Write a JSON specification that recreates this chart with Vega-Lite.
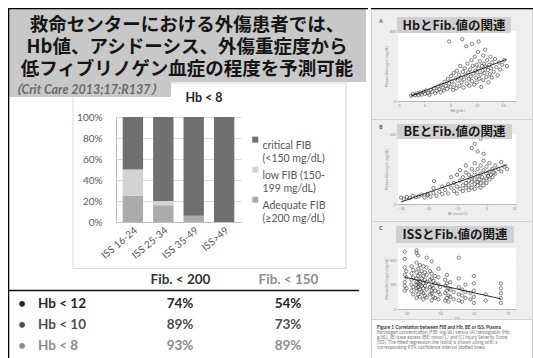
{
  "$schema": "https://vega.github.io/schema/vega-lite/v6.json",
  "padding": {"left": 7, "top": 7, "right": 0, "bottom": 0},
  "background": "white",
  "spacing": 0,
  "config": {
    "view": {"stroke": null},
    "font": "Lato",
    "text": {"font": "Lato"},
    "axis": {"labelFont": "Lato", "titleFont": "Lato"},
    "legend": {"labelFont": "Lato"}
  },
  "resolve": {"scale": {"color": "independent"}, "legend": {"color": "independent"}},
  "hconcat": [
    {
      "spacing": 0,
      "bounds": "flush",
      "resolve": {"scale": {"color": "independent"}, "legend": {"color": "independent"}},
      "vconcat": [
        {
          "width": 358,
          "height": 74,
          "view": {"fill": "#c8c8c8", "stroke": null},
          "layer": [
            {
              "data": {"values": [
                {"n": 1, "line": "救命センターにおける外傷患者では、"},
                {"n": 2, "line": "Hb値、アシドーシス、外傷重症度から"},
                {"n": 3, "line": "低フィブリノゲン血症の程度を予測可能"}
              ]},
              "mark": {"type": "text", "font": "Noto Sans CJK JP", "fontSize": 18.5, "fontWeight": "bold", "color": "#151515", "align": "center", "baseline": "middle"},
              "encoding": {
                "x": {"value": 179},
                "y": {"field": "n", "type": "ordinal", "scale": {"range": [16.5, 60.5], "padding": 0}, "axis": null},
                "text": {"field": "line"}
              }
            },
            {
              "data": {"values": [{}]},
              "mark": {"type": "rule", "color": "black", "strokeWidth": 1.3},
              "encoding": {"x": {"value": 0}, "x2": {"value": 360}, "y": {"value": 0.65}}
            },
            {
              "data": {"values": [{}]},
              "mark": {"type": "rule", "color": "black", "strokeWidth": 1.3},
              "encoding": {"x": {"value": 0.65}, "y": {"value": 0}, "y2": {"value": 74}}
            }
          ]
        },
        {
          "width": 358,
          "height": 187,
          "layer": [
            {
              "data": {"values": [{}]},
              "mark": {"type": "rect", "fill": null, "stroke": "#d9d9d9", "strokeWidth": 1},
              "encoding": {"x": {"value": 65}, "x2": {"value": 338}, "y": {"value": 1}, "y2": {"value": 186.5}}
            },
            {
              "data": {"values": [
                {"iss": "ISS 16-24", "level": "Adequate FIB (≥200 mg/dL)", "fibFloor": 200, "pct": 25},
                {"iss": "ISS 16-24", "level": "low FIB (150-199 mg/dL)", "fibFloor": 150, "pct": 25},
                {"iss": "ISS 16-24", "level": "critical FIB (<150 mg/dL)", "fibFloor": 0, "pct": 50},
                {"iss": "ISS 25-34", "level": "Adequate FIB (≥200 mg/dL)", "fibFloor": 200, "pct": 16},
                {"iss": "ISS 25-34", "level": "low FIB (150-199 mg/dL)", "fibFloor": 150, "pct": 4},
                {"iss": "ISS 25-34", "level": "critical FIB (<150 mg/dL)", "fibFloor": 0, "pct": 80},
                {"iss": "ISS 35-49", "level": "Adequate FIB (≥200 mg/dL)", "fibFloor": 200, "pct": 6},
                {"iss": "ISS 35-49", "level": "low FIB (150-199 mg/dL)", "fibFloor": 150, "pct": 0},
                {"iss": "ISS 35-49", "level": "critical FIB (<150 mg/dL)", "fibFloor": 0, "pct": 94},
                {"iss": "ISS>49", "level": "Adequate FIB (≥200 mg/dL)", "fibFloor": 200, "pct": 0},
                {"iss": "ISS>49", "level": "low FIB (150-199 mg/dL)", "fibFloor": 150, "pct": 0},
                {"iss": "ISS>49", "level": "critical FIB (<150 mg/dL)", "fibFloor": 0, "pct": 100}
              ]},
              "mark": {"type": "bar"},
              "encoding": {
                "x": {
                  "field": "iss", "type": "nominal",
                  "sort": ["ISS 16-24", "ISS 25-34", "ISS 35-49", "ISS>49"],
                  "scale": {"range": [108, 233], "paddingInner": 0.33, "paddingOuter": 0.22},
                  "axis": {"title": null, "offset": -47, "labelAngle": -40, "labelFontSize": 10, "labelColor": "#595959", "ticks": false, "tickSize": 0, "labelPadding": 3, "domainColor": "#bfbfbf", "grid": false}
                },
                "y": {
                  "field": "pct", "type": "quantitative", "stack": "normalize",
                  "scale": {"domain": [0, 1], "range": [140, 35], "nice": false},
                  "axis": {"title": null, "offset": -108, "values": [0, 0.2, 0.4, 0.6, 0.8, 1], "format": ".0%", "ticks": false, "tickSize": 0, "labelPadding": 14, "labelFontSize": 10, "labelColor": "#595959", "domainColor": "#bfbfbf", "grid": true, "gridColor": "#d9d9d9"}
                },
                "color": {
                  "field": "level", "type": "nominal",
                  "scale": {"domain": ["critical FIB (<150 mg/dL)", "low FIB (150-199 mg/dL)", "Adequate FIB (≥200 mg/dL)"], "range": ["#707070", "#d3d3d3", "#ababab"]},
                  "legend": {
                    "title": null, "orient": "none", "legendX": 242, "legendY": 59,
                    "symbolType": "M-1,-3.2H1V-1.2H-1Z", "symbolSize": 36, "symbolStrokeWidth": 0,
                    "labelFontSize": 10.5, "labelColor": "#595959", "labelLimit": 200, "labelOffset": 2,
                    "rowPadding": 1, "padding": 0,
                    "labelExpr": "datum.label == 'low FIB (150-199 mg/dL)' ? ['low FIB (150-', '199 mg/dL)'] : [slice(datum.label, 0, indexof(datum.label, ' (')), slice(datum.label, indexof(datum.label, ' (') + 1)]"
                  }
                },
                "order": {"field": "fibFloor", "type": "quantitative", "sort": "descending"}
              }
            },
            {
              "data": {"values": [{"cite": "（Crit Care 2013;17:R137）"}]},
              "mark": {"type": "rect", "color": "#c8c8c8"},
              "encoding": {"x": {"value": 0}, "x2": {"value": 163}, "y": {"value": 0}, "y2": {"value": 15}}
            },
            {
              "data": {"values": [{"cite": "（Crit Care 2013;17:R137）"}]},
              "mark": {"type": "text", "align": "left", "baseline": "middle", "font": "Lato, Noto Sans CJK JP", "fontSize": 12.5, "fontWeight": "bold", "fontStyle": "italic", "color": "#6a6a6a"},
              "encoding": {"x": {"value": 1}, "y": {"value": 7.5}, "text": {"field": "cite"}}
            },
            {
              "data": {"values": [{"subset": "Hb < 8"}]},
              "mark": {"type": "text", "align": "center", "baseline": "middle", "fontSize": 12.5, "fontWeight": "bold", "color": "#262626"},
              "encoding": {"x": {"value": 196}, "y": {"value": 16}, "text": {"field": "subset"}}
            },
            {
              "data": {"values": [{}]},
              "mark": {"type": "rule", "color": "black", "strokeWidth": 1.3},
              "encoding": {"x": {"value": 0.65}, "y": {"value": 0}, "y2": {"value": 187}}
            }
          ]
        },
        {
          "width": 358,
          "height": 90,
          "data": {"values": [
            {"hb": "Hb < 12", "fib200": 0.74, "fib150": 0.54},
            {"hb": "Hb < 10", "fib200": 0.89, "fib150": 0.73},
            {"hb": "Hb < 8", "fib200": 0.93, "fib150": 0.89}
          ]},
          "layer": [
            {
              "data": {"values": [{}]},
              "mark": {"type": "rule", "color": "black", "strokeWidth": 1.3},
              "encoding": {"x": {"value": 0.65}, "y": {"value": 0}, "y2": {"value": 90}}
            },
            {
              "data": {"values": [{}]},
              "mark": {"type": "rule", "color": "#111111", "strokeWidth": 1.3},
              "encoding": {"x": {"value": 0}, "x2": {"value": 351}, "y": {"value": 21.5}}
            },
            {
              "mark": {"type": "text", "align": "center", "baseline": "middle", "fontSize": 13, "fontWeight": "bold"},
              "encoding": {
                "x": {"value": 14},
                "y": {"field": "hb", "type": "nominal", "scale": {"domain": ["Hb < 12", "Hb < 10", "Hb < 8"], "range": [35, 77], "padding": 0}, "axis": null},
                "text": {"value": "•"},
                "color": {"field": "hb", "type": "nominal", "scale": {"domain": ["Hb < 12", "Hb < 10", "Hb < 8"], "range": ["#262626", "#4d4d4d", "#8c8c8c"]}, "legend": null}
              }
            },
            {
              "mark": {"type": "text", "align": "left", "baseline": "middle", "fontSize": 13.5, "fontWeight": "bold"},
              "encoding": {
                "x": {"value": 30},
                "y": {"field": "hb", "type": "nominal", "scale": {"domain": ["Hb < 12", "Hb < 10", "Hb < 8"], "range": [35, 77], "padding": 0}, "axis": null},
                "text": {"field": "hb"},
                "color": {"field": "hb", "type": "nominal", "scale": {"domain": ["Hb < 12", "Hb < 10", "Hb < 8"], "range": ["#262626", "#4d4d4d", "#8c8c8c"]}, "legend": null}
              }
            },
            {
              "transform": [{"fold": ["fib200", "fib150"], "as": ["col", "share"]}],
              "mark": {"type": "text", "align": "center", "baseline": "middle", "fontSize": 13.5, "fontWeight": "bold"},
              "encoding": {
                "x": {
                  "field": "col", "type": "nominal",
                  "scale": {"domain": ["fib200", "fib150"], "range": [172, 280], "padding": 0},
                  "axis": {
                    "orient": "top", "title": null, "offset": -10, "labelPadding": 0, "ticks": false, "tickSize": 0, "domain": false, "grid": false,
                    "labelAngle": 0, "labelBaseline": "middle", "labelFontSize": 13.5, "labelFontWeight": "bold",
                    "labelExpr": "datum.value == 'fib200' ? 'Fib. < 200' : 'Fib. < 150'",
                    "labelColor": {"condition": {"test": "datum.value == 'fib150'", "value": "#8c8c8c"}, "value": "#333333"}
                  }
                },
                "y": {"field": "hb", "type": "nominal", "scale": {"domain": ["Hb < 12", "Hb < 10", "Hb < 8"], "range": [35, 77], "padding": 0}, "axis": null},
                "text": {"field": "share", "type": "quantitative", "format": ".0%"},
                "color": {"field": "hb", "type": "nominal", "scale": {"domain": ["Hb < 12", "Hb < 10", "Hb < 8"], "range": ["#262626", "#4d4d4d", "#8c8c8c"]}, "legend": null}
              }
            }
          ]
        }
      ]
    },
    {
      "spacing": 0,
      "bounds": "flush",
      "vconcat": [
        {
          "width": 161,
          "height": 111,
          "view": {"fill": "#eeeeee", "stroke": "#d0d0d0"},
          "data": {"values": [
            {"hb": 2.0, "fib": 45}, {"hb": 2.3, "fib": 58}, {"hb": 2.6, "fib": 50}, {"hb": 2.9, "fib": 65}, {"hb": 3.1, "fib": 48},
            {"hb": 3.4, "fib": 72}, {"hb": 3.6, "fib": 55}, {"hb": 3.9, "fib": 80}, {"hb": 4.1, "fib": 62}, {"hb": 4.3, "fib": 90},
            {"hb": 4.6, "fib": 70}, {"hb": 4.8, "fib": 52}, {"hb": 5.0, "fib": 95}, {"hb": 5.2, "fib": 78}, {"hb": 5.5, "fib": 110},
            {"hb": 5.7, "fib": 66}, {"hb": 5.9, "fib": 88}, {"hb": 6.1, "fib": 125}, {"hb": 6.3, "fib": 100}, {"hb": 6.5, "fib": 75},
            {"hb": 6.6, "fib": 140}, {"hb": 6.8, "fib": 115}, {"hb": 7.0, "fib": 90}, {"hb": 7.1, "fib": 165}, {"hb": 7.3, "fib": 130},
            {"hb": 7.5, "fib": 105}, {"hb": 7.6, "fib": 190}, {"hb": 7.8, "fib": 150}, {"hb": 7.8, "fib": 510}, {"hb": 8.0, "fib": 120},
            {"hb": 8.1, "fib": 215}, {"hb": 8.2, "fib": 170}, {"hb": 8.4, "fib": 95}, {"hb": 8.5, "fib": 240}, {"hb": 8.6, "fib": 140},
            {"hb": 8.8, "fib": 195}, {"hb": 8.9, "fib": 110}, {"hb": 9.0, "fib": 260}, {"hb": 9.1, "fib": 175}, {"hb": 9.3, "fib": 225},
            {"hb": 9.4, "fib": 130}, {"hb": 9.5, "fib": 300}, {"hb": 9.6, "fib": 200}, {"hb": 9.7, "fib": 160}, {"hb": 9.8, "fib": 530},
            {"hb": 9.9, "fib": 250}, {"hb": 10.0, "fib": 115}, {"hb": 10.1, "fib": 185}, {"hb": 10.2, "fib": 280}, {"hb": 10.3, "fib": 220},
            {"hb": 10.4, "fib": 470}, {"hb": 10.5, "fib": 150}, {"hb": 10.6, "fib": 320}, {"hb": 10.7, "fib": 245}, {"hb": 10.8, "fib": 190},
            {"hb": 10.9, "fib": 130}, {"hb": 11.0, "fib": 270}, {"hb": 11.1, "fib": 210}, {"hb": 11.2, "fib": 350}, {"hb": 11.3, "fib": 490},
            {"hb": 11.3, "fib": 170}, {"hb": 11.4, "fib": 300}, {"hb": 11.5, "fib": 235}, {"hb": 11.6, "fib": 140}, {"hb": 11.7, "fib": 380},
            {"hb": 11.8, "fib": 260}, {"hb": 11.9, "fib": 200}, {"hb": 12.0, "fib": 310}, {"hb": 12.0, "fib": 160}, {"hb": 12.1, "fib": 245},
            {"hb": 12.2, "fib": 420}, {"hb": 12.3, "fib": 510}, {"hb": 12.3, "fib": 280}, {"hb": 12.4, "fib": 190}, {"hb": 12.5, "fib": 340},
            {"hb": 12.6, "fib": 225}, {"hb": 12.7, "fib": 120}, {"hb": 12.8, "fib": 300}, {"hb": 12.9, "fib": 260}, {"hb": 13.0, "fib": 390},
            {"hb": 13.0, "fib": 180}, {"hb": 13.1, "fib": 320}, {"hb": 13.2, "fib": 240}, {"hb": 13.3, "fib": 440}, {"hb": 13.4, "fib": 290},
            {"hb": 13.5, "fib": 205}, {"hb": 13.6, "fib": 350}, {"hb": 13.7, "fib": 265}, {"hb": 13.8, "fib": 160}, {"hb": 13.9, "fib": 310},
            {"hb": 14.0, "fib": 230}, {"hb": 14.1, "fib": 380}, {"hb": 14.2, "fib": 280}, {"hb": 14.3, "fib": 200}, {"hb": 14.4, "fib": 330},
            {"hb": 14.6, "fib": 250}, {"hb": 14.8, "fib": 360}, {"hb": 15.0, "fib": 290}, {"hb": 15.2, "fib": 220}, {"hb": 15.4, "fib": 330},
            {"hb": 15.6, "fib": 270}, {"hb": 15.9, "fib": 310}, {"hb": 16.2, "fib": 350}, {"hb": 16.6, "fib": 300}
          ]},
          "layer": [
            {
              "data": {"values": [{}]},
              "mark": {"type": "rect", "color": "white"},
              "encoding": {
                "x": {"datum": 0, "type": "quantitative", "scale": {"domain": [0, 18], "range": [27, 145], "nice": false, "zero": false},
                  "axis": {"title": "Hb (g/dL)", "offset": -18, "values": [0, 2, 4, 6, 8, 10, 12, 14, 16, 18], "grid": false, "labelFontSize": 3.5, "labelColor": "#888888", "labelPadding": 1, "tickSize": 1.5, "tickColor": "#aaaaaa", "tickWidth": 0.5, "domainColor": "#999999", "domainWidth": 0.6, "titleFontSize": 3.6, "titleColor": "#888888", "titleFontWeight": "normal", "titlePadding": 1}},
                "x2": {"datum": 18},
                "y": {"datum": 0, "type": "quantitative", "scale": {"domain": [0, 600], "range": [93, 23], "nice": false},
                  "axis": {"title": "Plasma fibrinogen (mg/dL)", "offset": -27, "values": [0, 100, 200, 300, 400, 500, 600], "grid": true, "gridColor": "#e2e2e2", "gridWidth": 0.5, "labelFontSize": 3.5, "labelColor": "#888888", "labelPadding": 1, "tickSize": 1.5, "tickColor": "#aaaaaa", "tickWidth": 0.5, "domainColor": "#999999", "domainWidth": 0.6, "titleFontSize": 3.6, "titleColor": "#888888", "titleFontWeight": "normal", "titlePadding": 1}},
                "y2": {"datum": 600}
              }
            },
            {
              "mark": {"type": "point", "shape": "circle", "filled": false, "size": 11, "strokeWidth": 0.8, "color": "#222222"},
              "encoding": {
                "x": {"field": "hb", "type": "quantitative"},
                "y": {"field": "fib", "type": "quantitative"}
              }
            },
            {
              "transform": [{"regression": "fib", "on": "hb"}],
              "mark": {"type": "line", "color": "#1a1a1a", "strokeWidth": 0.9},
              "encoding": {"x": {"field": "hb", "type": "quantitative"}, "y": {"field": "fib", "type": "quantitative"}}
            },
            {
              "data": {"values": [{"label": "HbとFib.値の関連"}]},
              "mark": {"type": "rect", "color": "#d0d0d0"},
              "encoding": {"x": {"value": 26}, "x2": {"value": 140}, "y": {"value": 9}, "y2": {"value": 25}}
            },
            {
              "data": {"values": [{"label": "HbとFib.値の関連"}]},
              "mark": {"type": "text", "font": "Noto Sans CJK JP", "fontSize": 12.5, "fontWeight": "bold", "color": "#1a1a1a", "align": "center", "baseline": "middle"},
              "encoding": {"x": {"value": 83}, "y": {"value": 17.5}, "text": {"field": "label"}}
            },
            {
              "data": {"values": [{"panel": "A"}]},
              "mark": {"type": "text", "fontSize": 5, "fontWeight": "bold", "color": "#444444"},
              "encoding": {"x": {"value": 10}, "y": {"value": 13}, "text": {"field": "panel"}}
            },
            {
              "data": {"values": [{}]},
              "mark": {"type": "rule", "color": "black", "strokeWidth": 1.3},
              "encoding": {"x": {"value": 0}, "x2": {"value": 166}, "y": {"value": 0.65}}
            }
          ]
        },
        {
          "width": 161,
          "height": 102,
          "view": {"fill": "#eeeeee", "stroke": "#d0d0d0"},
          "data": {"values": [
            {"be": -29, "fib": 55}, {"be": -28, "fib": 45}, {"be": -27, "fib": 60}, {"be": -26, "fib": 50}, {"be": -25, "fib": 70},
            {"be": -24, "fib": 58}, {"be": -23, "fib": 65}, {"be": -22, "fib": 80}, {"be": -21, "fib": 55}, {"be": -20, "fib": 75},
            {"be": -20, "fib": 86}, {"be": -19, "fib": 62}, {"be": -18, "fib": 95}, {"be": -18, "fib": 137}, {"be": -17.8, "fib": 197},
            {"be": -17, "fib": 70}, {"be": -16, "fib": 105}, {"be": -15, "fib": 85}, {"be": -15, "fib": 150}, {"be": -14, "fib": 120},
            {"be": -13, "fib": 90}, {"be": -13, "fib": 170}, {"be": -12, "fib": 140}, {"be": -12, "fib": 230}, {"be": -11, "fib": 110},
            {"be": -11, "fib": 180}, {"be": -10, "fib": 150}, {"be": -10, "fib": 250}, {"be": -10, "fib": 90}, {"be": -9, "fib": 130},
            {"be": -9, "fib": 200}, {"be": -9, "fib": 290}, {"be": -8, "fib": 160}, {"be": -8, "fib": 110}, {"be": -8, "fib": 230},
            {"be": -7, "fib": 180}, {"be": -7, "fib": 140}, {"be": -7, "fib": 270}, {"be": -7, "fib": 330}, {"be": -6, "fib": 120},
            {"be": -6, "fib": 200}, {"be": -6, "fib": 160}, {"be": -6, "fib": 250}, {"be": -5, "fib": 190}, {"be": -5, "fib": 140},
            {"be": -5, "fib": 300}, {"be": -5, "fib": 230}, {"be": -5, "fib": 480}, {"be": -4, "fib": 170}, {"be": -4, "fib": 210},
            {"be": -4, "fib": 130}, {"be": -4, "fib": 270}, {"be": -4, "fib": 350}, {"be": -4, "fib": 515}, {"be": -3, "fib": 190},
            {"be": -3, "fib": 240}, {"be": -3, "fib": 160}, {"be": -3, "fib": 300}, {"be": -3, "fib": 450}, {"be": -2.5, "fib": 210},
            {"be": -2, "fib": 180}, {"be": -2, "fib": 260}, {"be": -2, "fib": 140}, {"be": -2, "fib": 330}, {"be": -2, "fib": 560},
            {"be": -1.5, "fib": 230}, {"be": -1, "fib": 200}, {"be": -1, "fib": 290}, {"be": -1, "fib": 160}, {"be": -1, "fib": 370},
            {"be": -1, "fib": 430}, {"be": 0, "fib": 220}, {"be": 0, "fib": 260}, {"be": 0, "fib": 180}, {"be": 0, "fib": 320},
            {"be": 0.5, "fib": 240}, {"be": 1, "fib": 210}, {"be": 1, "fib": 280}, {"be": 1, "fib": 350}, {"be": 1.5, "fib": 250},
            {"be": 2, "fib": 230}, {"be": 2, "fib": 300}, {"be": 2.5, "fib": 270}, {"be": 3, "fib": 260}, {"be": 3, "fib": 330},
            {"be": 4, "fib": 300}, {"be": 5, "fib": 280}, {"be": 5, "fib": 360}, {"be": 6, "fib": 320}, {"be": 7, "fib": 300}
          ]},
          "layer": [
            {
              "data": {"values": [{}]},
              "mark": {"type": "rect", "color": "white"},
              "encoding": {
                "x": {"datum": -30, "type": "quantitative", "scale": {"domain": [-30, 10], "range": [27, 145], "nice": false, "zero": false},
                  "axis": {"title": "BE (mmol/L)", "offset": -17, "values": [-30, -20, -10, 0, 10], "grid": false, "labelFontSize": 3.5, "labelColor": "#888888", "labelPadding": 1, "tickSize": 1.5, "tickColor": "#aaaaaa", "tickWidth": 0.5, "domainColor": "#999999", "domainWidth": 0.6, "titleFontSize": 3.6, "titleColor": "#888888", "titleFontWeight": "normal", "titlePadding": 1}},
                "x2": {"datum": 10},
                "y": {"datum": 0, "type": "quantitative", "scale": {"domain": [0, 600], "range": [85, 15], "nice": false},
                  "axis": {"title": "Plasma fibrinogen (mg/dL)", "offset": -27, "values": [0, 100, 200, 300, 400, 500, 600], "grid": true, "gridColor": "#e2e2e2", "gridWidth": 0.5, "labelFontSize": 3.5, "labelColor": "#888888", "labelPadding": 1, "tickSize": 1.5, "tickColor": "#aaaaaa", "tickWidth": 0.5, "domainColor": "#999999", "domainWidth": 0.6, "titleFontSize": 3.6, "titleColor": "#888888", "titleFontWeight": "normal", "titlePadding": 1}},
                "y2": {"datum": 600}
              }
            },
            {
              "mark": {"type": "point", "shape": "circle", "filled": false, "size": 11, "strokeWidth": 0.8, "color": "#222222"},
              "encoding": {
                "x": {"field": "be", "type": "quantitative"},
                "y": {"field": "fib", "type": "quantitative"}
              }
            },
            {
              "transform": [{"regression": "fib", "on": "be"}],
              "mark": {"type": "line", "color": "#1a1a1a", "strokeWidth": 0.9},
              "encoding": {"x": {"field": "be", "type": "quantitative"}, "y": {"field": "fib", "type": "quantitative"}}
            },
            {
              "data": {"values": [{"label": "BEとFib.値の関連"}]},
              "mark": {"type": "rect", "color": "#d0d0d0"},
              "encoding": {"x": {"value": 26}, "x2": {"value": 141}, "y": {"value": 5}, "y2": {"value": 20}}
            },
            {
              "data": {"values": [{"label": "BEとFib.値の関連"}]},
              "mark": {"type": "text", "font": "Noto Sans CJK JP", "fontSize": 12.5, "fontWeight": "bold", "color": "#1a1a1a", "align": "center", "baseline": "middle"},
              "encoding": {"x": {"value": 83.5}, "y": {"value": 13}, "text": {"field": "label"}}
            },
            {
              "data": {"values": [{"panel": "B"}]},
              "mark": {"type": "text", "fontSize": 5, "fontWeight": "bold", "color": "#444444"},
              "encoding": {"x": {"value": 10}, "y": {"value": 8}, "text": {"field": "panel"}}
            }
          ]
        },
        {
          "width": 161,
          "height": 98,
          "view": {"fill": "#eeeeee", "stroke": "#d0d0d0"},
          "data": {"values": [
            {"iss": 9, "fib": 150}, {"iss": 9, "fib": 190}, {"iss": 9, "fib": 220}, {"iss": 9, "fib": 280}, {"iss": 9, "fib": 340}, {"iss": 9, "fib": 410}, {"iss": 9, "fib": 470},
            {"iss": 10, "fib": 170}, {"iss": 10, "fib": 260}, {"iss": 10, "fib": 310},
            {"iss": 13, "fib": 150}, {"iss": 13, "fib": 200}, {"iss": 13, "fib": 240}, {"iss": 13, "fib": 290}, {"iss": 13, "fib": 350},
            {"iss": 14, "fib": 120}, {"iss": 14, "fib": 180}, {"iss": 14, "fib": 260}, {"iss": 14, "fib": 320},
            {"iss": 16, "fib": 90}, {"iss": 16, "fib": 150}, {"iss": 16, "fib": 170}, {"iss": 16, "fib": 200}, {"iss": 16, "fib": 220}, {"iss": 16, "fib": 250}, {"iss": 16, "fib": 300}, {"iss": 16, "fib": 380}, {"iss": 16, "fib": 460}, {"iss": 16, "fib": 480},
            {"iss": 17, "fib": 120}, {"iss": 17, "fib": 180}, {"iss": 17, "fib": 210}, {"iss": 17, "fib": 270}, {"iss": 17, "fib": 330}, {"iss": 17, "fib": 440},
            {"iss": 18, "fib": 100}, {"iss": 18, "fib": 160}, {"iss": 18, "fib": 200}, {"iss": 18, "fib": 230}, {"iss": 18, "fib": 290}, {"iss": 18, "fib": 360},
            {"iss": 19, "fib": 140}, {"iss": 19, "fib": 190}, {"iss": 19, "fib": 250}, {"iss": 19, "fib": 310},
            {"iss": 20, "fib": 80}, {"iss": 20, "fib": 130}, {"iss": 20, "fib": 170}, {"iss": 20, "fib": 210}, {"iss": 20, "fib": 270}, {"iss": 20, "fib": 350},
            {"iss": 21, "fib": 110}, {"iss": 21, "fib": 190}, {"iss": 21, "fib": 240}, {"iss": 21, "fib": 300},
            {"iss": 22, "fib": 95}, {"iss": 22, "fib": 160}, {"iss": 22, "fib": 220}, {"iss": 22, "fib": 280}, {"iss": 22, "fib": 340}, {"iss": 22, "fib": 420},
            {"iss": 24, "fib": 120}, {"iss": 24, "fib": 180}, {"iss": 24, "fib": 240}, {"iss": 24, "fib": 310},
            {"iss": 25, "fib": 70}, {"iss": 25, "fib": 130}, {"iss": 25, "fib": 150}, {"iss": 25, "fib": 190}, {"iss": 25, "fib": 250}, {"iss": 25, "fib": 290}, {"iss": 25, "fib": 390},
            {"iss": 26, "fib": 100}, {"iss": 26, "fib": 170}, {"iss": 26, "fib": 230},
            {"iss": 27, "fib": 90}, {"iss": 27, "fib": 150}, {"iss": 27, "fib": 210}, {"iss": 27, "fib": 270},
            {"iss": 29, "fib": 80}, {"iss": 29, "fib": 140}, {"iss": 29, "fib": 200}, {"iss": 29, "fib": 260}, {"iss": 29, "fib": 330},
            {"iss": 30, "fib": 120}, {"iss": 30, "fib": 180},
            {"iss": 33, "fib": 70}, {"iss": 33, "fib": 130}, {"iss": 33, "fib": 190}, {"iss": 33, "fib": 240},
            {"iss": 34, "fib": 90}, {"iss": 34, "fib": 150}, {"iss": 34, "fib": 210}, {"iss": 34, "fib": 280},
            {"iss": 35, "fib": 60}, {"iss": 35, "fib": 110}, {"iss": 35, "fib": 170},
            {"iss": 36, "fib": 100}, {"iss": 36, "fib": 160}, {"iss": 36, "fib": 220},
            {"iss": 38, "fib": 80}, {"iss": 38, "fib": 140},
            {"iss": 41, "fib": 70}, {"iss": 41, "fib": 120}, {"iss": 41, "fib": 180}, {"iss": 41, "fib": 250}, {"iss": 41, "fib": 420},
            {"iss": 43, "fib": 60}, {"iss": 43, "fib": 110}, {"iss": 43, "fib": 160},
            {"iss": 45, "fib": 90}, {"iss": 45, "fib": 140}, {"iss": 45, "fib": 200},
            {"iss": 48, "fib": 80}, {"iss": 48, "fib": 130},
            {"iss": 50, "fib": 50}, {"iss": 50, "fib": 100}, {"iss": 50, "fib": 150}, {"iss": 50, "fib": 210}, {"iss": 50, "fib": 270},
            {"iss": 57, "fib": 70}, {"iss": 57, "fib": 120},
            {"iss": 66, "fib": 50}, {"iss": 66, "fib": 90}, {"iss": 66, "fib": 130}, {"iss": 66, "fib": 170}, {"iss": 66, "fib": 210}
          ]},
          "layer": [
            {
              "data": {"values": [{}]},
              "mark": {"type": "rect", "color": "white"},
              "encoding": {
                "x": {"datum": 5, "type": "quantitative", "scale": {"domain": [5, 75], "range": [27, 145], "nice": false, "zero": false},
                  "axis": {"title": "ISS", "offset": -10, "values": [10, 20, 30, 40, 50, 60, 70], "grid": false, "labelFontSize": 3.5, "labelColor": "#888888", "labelPadding": 1, "tickSize": 1.5, "tickColor": "#aaaaaa", "tickWidth": 0.5, "domainColor": "#999999", "domainWidth": 0.6, "titleFontSize": 3.6, "titleColor": "#888888", "titleFontWeight": "normal", "titlePadding": 1}},
                "x2": {"datum": 75},
                "y": {"datum": 0, "type": "quantitative", "scale": {"domain": [0, 500], "range": [88, 27], "nice": false},
                  "axis": {"title": "Plasma fibrinogen (mg/dL)", "offset": -27, "values": [0, 100, 200, 300, 400, 500], "grid": true, "gridColor": "#e2e2e2", "gridWidth": 0.5, "labelFontSize": 3.5, "labelColor": "#888888", "labelPadding": 1, "tickSize": 1.5, "tickColor": "#aaaaaa", "tickWidth": 0.5, "domainColor": "#999999", "domainWidth": 0.6, "titleFontSize": 3.6, "titleColor": "#888888", "titleFontWeight": "normal", "titlePadding": 1}},
                "y2": {"datum": 500}
              }
            },
            {
              "mark": {"type": "point", "shape": "circle", "filled": false, "size": 11, "strokeWidth": 0.8, "color": "#222222"},
              "encoding": {
                "x": {"field": "iss", "type": "quantitative"},
                "y": {"field": "fib", "type": "quantitative"}
              }
            },
            {
              "transform": [{"regression": "fib", "on": "iss"}],
              "mark": {"type": "line", "color": "#1a1a1a", "strokeWidth": 0.9},
              "encoding": {"x": {"field": "iss", "type": "quantitative"}, "y": {"field": "fib", "type": "quantitative"}}
            },
            {
              "data": {"values": [{"label": "ISSとFib.値の関連"}]},
              "mark": {"type": "rect", "color": "#d0d0d0"},
              "encoding": {"x": {"value": 25}, "x2": {"value": 143}, "y": {"value": 5}, "y2": {"value": 22}}
            },
            {
              "data": {"values": [{"label": "ISSとFib.値の関連"}]},
              "mark": {"type": "text", "font": "Noto Sans CJK JP", "fontSize": 12.5, "fontWeight": "bold", "color": "#1a1a1a", "align": "center", "baseline": "middle"},
              "encoding": {"x": {"value": 84}, "y": {"value": 14}, "text": {"field": "label"}}
            },
            {
              "data": {"values": [{"panel": "C"}]},
              "mark": {"type": "text", "fontSize": 5, "fontWeight": "bold", "color": "#444444"},
              "encoding": {"x": {"value": 10}, "y": {"value": 7}, "text": {"field": "panel"}}
            }
          ]
        },
        {
          "width": 161,
          "height": 40,
          "view": {"fill": "white", "stroke": "#d0d0d0"},
          "data": {"values": [
            {"n": 1, "line": "Figure 1 Correlation between FIB and Hb, BE or ISS. Plasma"},
            {"n": 2, "line": "fibrinogen concentration (FIB; mg/dL) versus (A) hemoglobin (Hb;"},
            {"n": 3, "line": "g/dL), (B) base excess (BE; mmol/L) and (C) Injury Severity Score"},
            {"n": 4, "line": "(ISS). The fitted regression line (solid) is shown along with a"},
            {"n": 5, "line": "corresponding 95% confidence interval (dotted lines)."}
          ]},
          "layer": [
            {
              "transform": [{"filter": "datum.n == 1"}],
              "mark": {"type": "text", "align": "left", "baseline": "middle", "fontSize": 4.7, "fontWeight": "bold", "color": "#333333"},
              "encoding": {
                "x": {"value": 6},
                "y": {"field": "n", "type": "ordinal", "scale": {"domain": [1, 2, 3, 4, 5], "range": [9, 29], "padding": 0}, "axis": null},
                "text": {"field": "line"}
              }
            },
            {
              "transform": [{"filter": "datum.n > 1"}],
              "mark": {"type": "text", "align": "left", "baseline": "middle", "fontSize": 4.7, "color": "#7a7a7a"},
              "encoding": {
                "x": {"value": 6},
                "y": {"field": "n", "type": "ordinal", "scale": {"domain": [1, 2, 3, 4, 5], "range": [9, 29], "padding": 0}, "axis": null},
                "text": {"field": "line"}
              }
            }
          ]
        }
      ]
    }
  ]
}
